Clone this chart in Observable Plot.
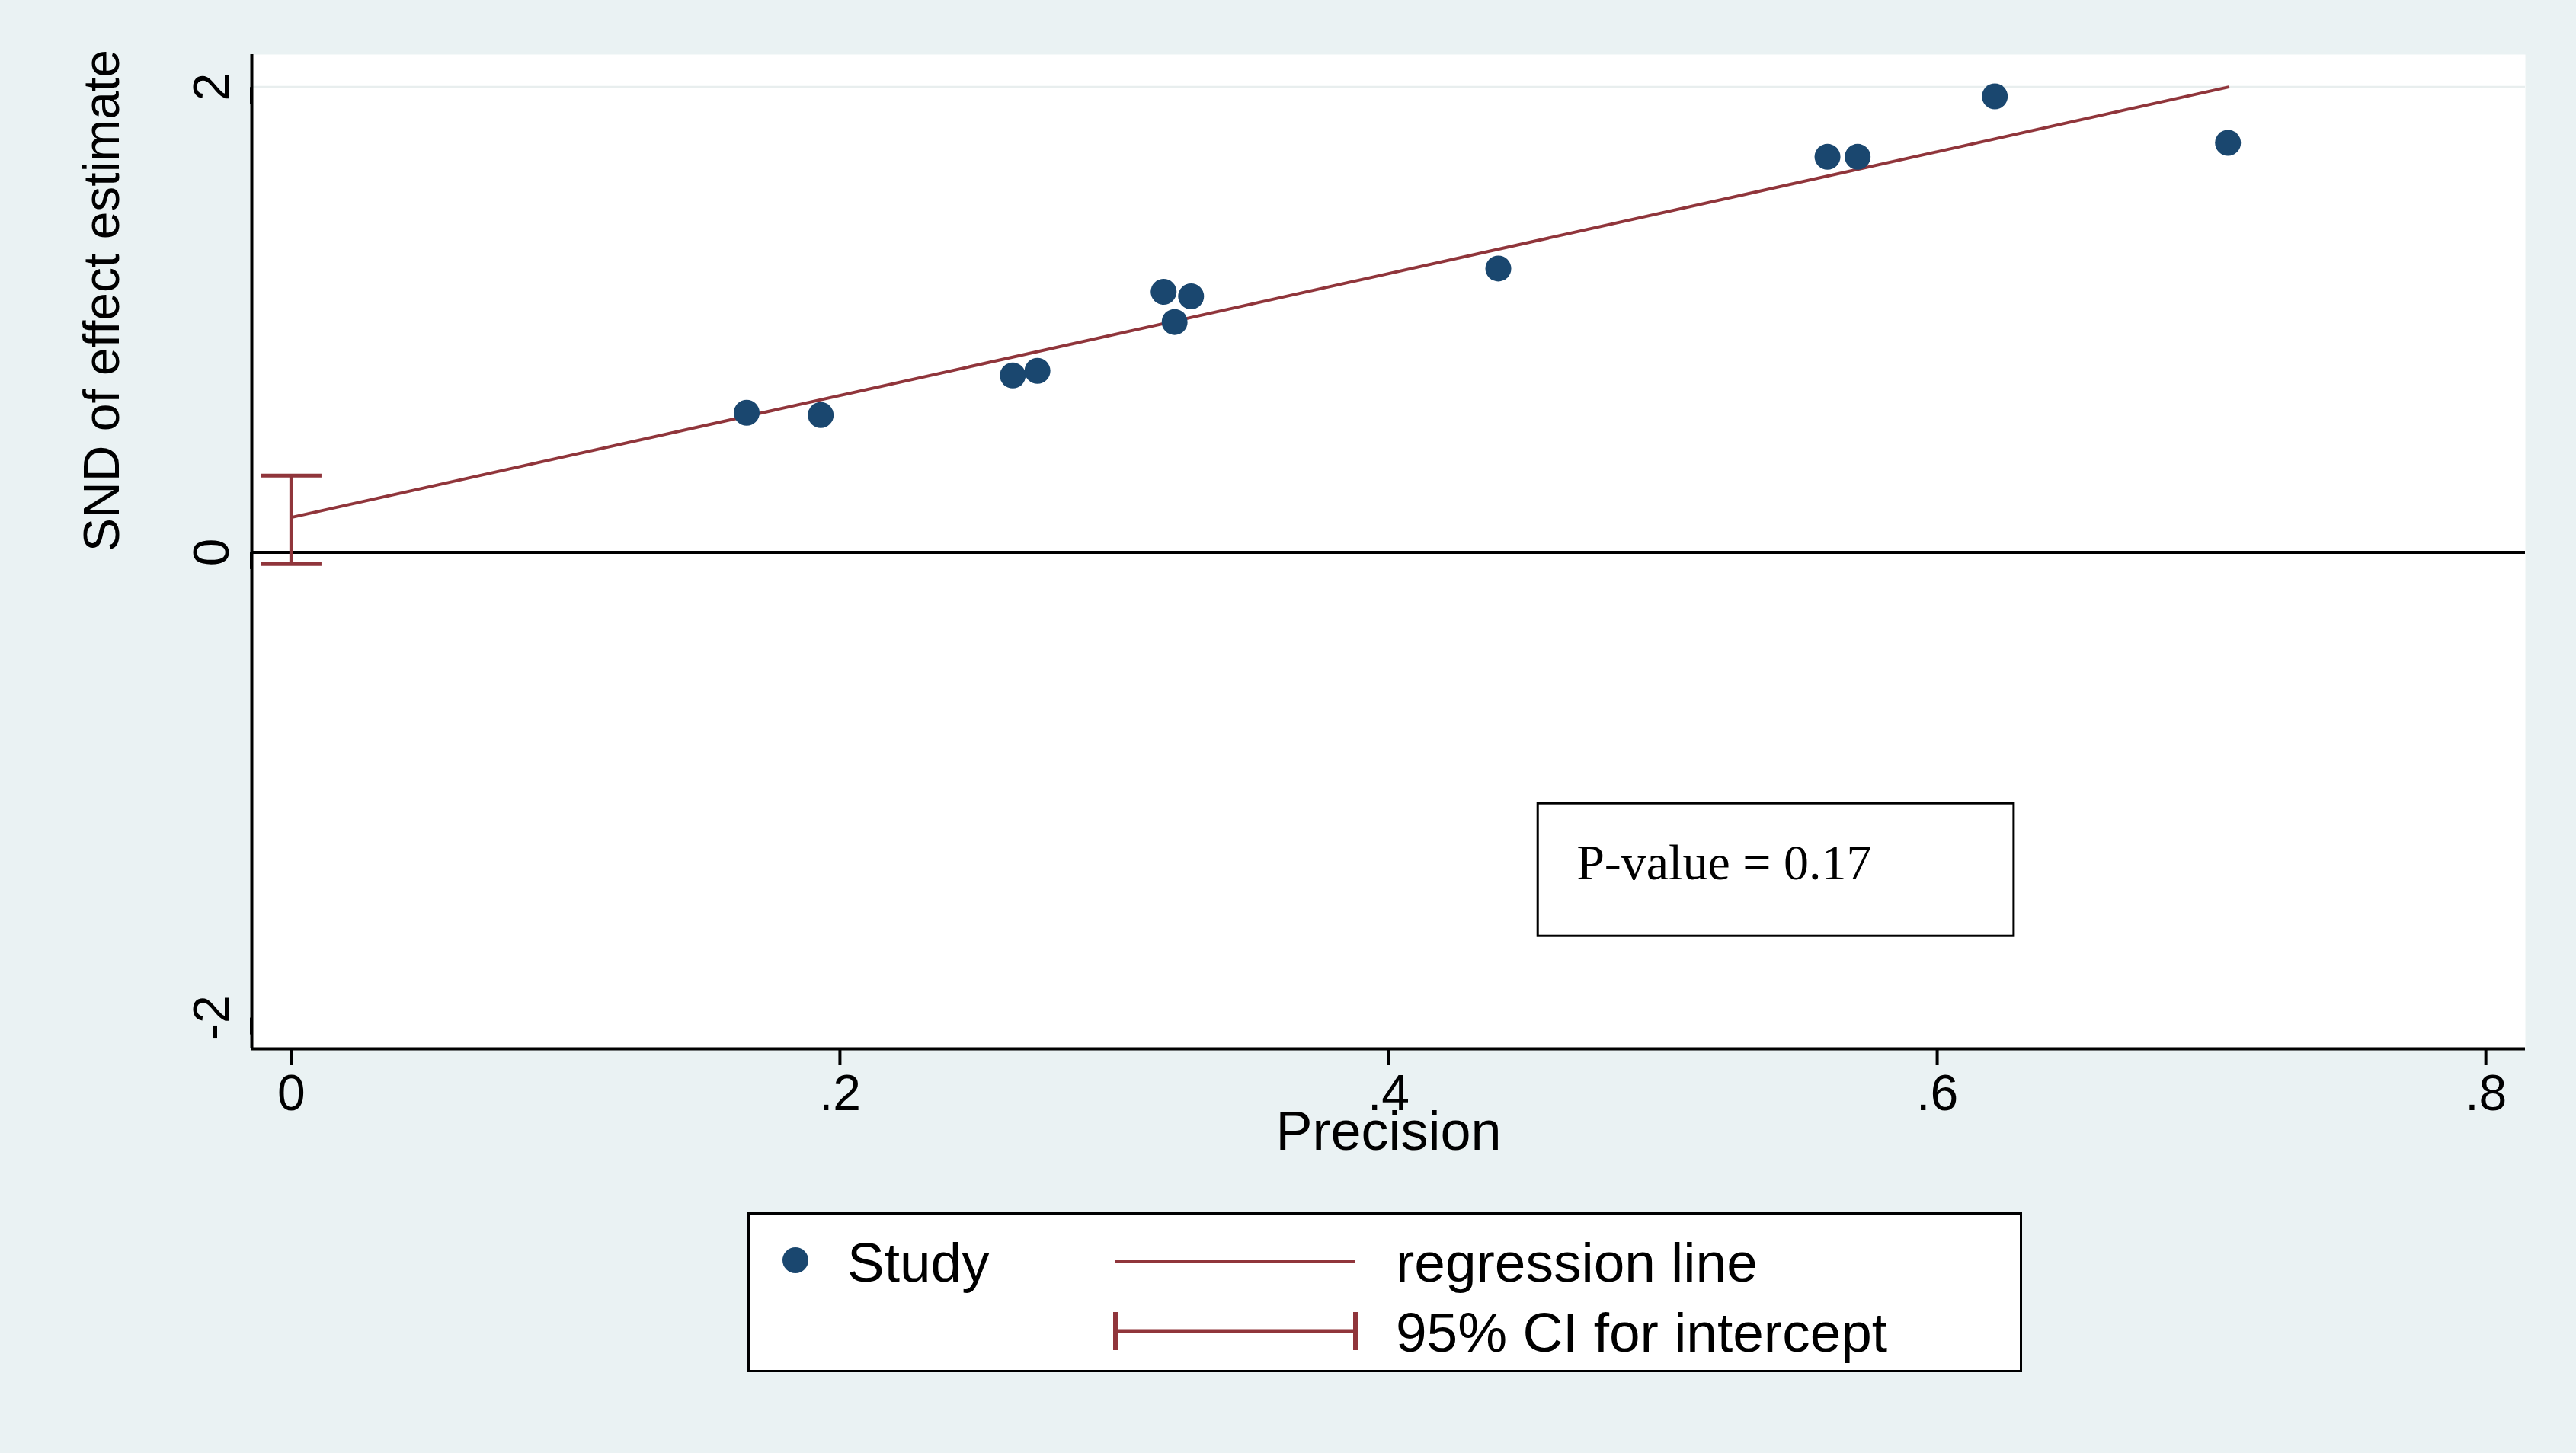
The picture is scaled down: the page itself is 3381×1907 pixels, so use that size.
<!DOCTYPE html>
<html><head><meta charset="utf-8">
<script src="https://cdn.jsdelivr.net/npm/d3@7"></script>
<script src="https://cdn.jsdelivr.net/npm/@observablehq/plot@0.6"></script>
<style>
body{margin:0;background:#eaf2f3;width:3381px;height:1907px;overflow:hidden;position:relative;font-family:"Liberation Sans",Arial,sans-serif}
#legend{position:absolute;left:981px;top:1591px;width:1673px;height:210px;border:3px solid #000;background:#fff;box-sizing:border-box;font-size:73px}
.t{position:absolute;line-height:1}
</style></head><body>
<div id="chart"></div>
<div id="legend">
 <svg width="1673" height="210" style="position:absolute;left:0;top:0">
  <circle cx="60" cy="60" r="17" fill="#1a476f"/>
  <line x1="480" x2="795" y1="62" y2="62" stroke="#90353b" stroke-width="4"/>
  <line x1="480" x2="795" y1="153" y2="153" stroke="#90353b" stroke-width="5"/>
  <line x1="480" x2="480" y1="128" y2="178" stroke="#90353b" stroke-width="6"/>
  <line x1="795" x2="795" y1="128" y2="178" stroke="#90353b" stroke-width="6"/>
 </svg>
 <div class="t" style="left:128px;top:26px">Study</div>
 <div class="t" style="left:848px;top:26px">regression line</div>
 <div class="t" style="left:848px;top:118px">95% CI for intercept</div>
</div>
<script>
const precision = [0.166,0.193,0.263,0.272,0.318,0.328,0.322,0.440,0.560,0.571,0.621,0.706];
const snd       = [0.60,0.59,0.76,0.78,1.12,1.10,0.99,1.22,1.70,1.70,1.96,1.76];
const intercept = 0.15, slope = 2.62;
const ciLow = -0.05, ciHigh = 0.33;
const xTicks = [0,0.2,0.4,0.6,0.8];
const yTicks = [-2,0,2];
const pBox = {x1:0.4545,x2:0.628,y1:-1.08,y2:-1.65,label:"P-value = 0.17"};

const pts = precision.map((p,i)=>({x:p,y:snd[i]}));
const reg = [0,0.706].map(x=>({x,y:intercept+slope*x}));
const caps = [ciLow,ciHigh].map(y=>({x1:-0.011,x2:0.011,y}));
const fmt = d=> d===0?"0":String(d).replace(/^0/,"").replace(/^-0/,"-");
const xMin=-0.0144, yMin=-2.134;
const plot = Plot.plot({
  width:3381,height:1560,
  marginLeft:330,marginRight:67,marginTop:71,marginBottom:184,
  style:{background:"transparent",fontFamily:"Liberation Sans, Arial, sans-serif"},
  x:{domain:[xMin,0.8144]},
  y:{domain:[yMin,2.14]},
  marks:[
    Plot.frame({fill:"white",stroke:null}),
    Plot.ruleY([2],{stroke:"#e8eeee",strokeWidth:3}),
    Plot.ruleY([0],{stroke:"#000",strokeWidth:4}),
    Plot.axisX({ticks:xTicks,tickFormat:fmt,fontSize:66,tickSize:22,strokeWidth:4,tickPadding:12,label:null}),
    Plot.axisY({ticks:yTicks,tickFormat:fmt,fontSize:66,tickSize:22,strokeWidth:4,rotate:-90,textAnchor:"middle",tickPadding:30,label:null}),
    Plot.ruleX([xMin],{stroke:"#000",strokeWidth:4}),
    Plot.ruleY([yMin],{stroke:"#000",strokeWidth:4}),
    Plot.text(["Precision"],{frameAnchor:"bottom",dy:132,fontSize:72}),
    Plot.text(["SND of effect estimate"],{frameAnchor:"left",dx:-196,rotate:-90,fontSize:66}),
    Plot.line(reg,{x:"x",y:"y",stroke:"#90353b",strokeWidth:4}),
    Plot.link([{x:0,y1:ciLow,y2:ciHigh}],{x1:"x",x2:"x",y1:"y1",y2:"y2",stroke:"#90353b",strokeWidth:5}),
    Plot.link(caps,{x1:"x1",x2:"x2",y1:"y",y2:"y",stroke:"#90353b",strokeWidth:5}),
    Plot.rect([pBox],{x1:"x1",x2:"x2",y1:"y1",y2:"y2",fill:"white",stroke:"#000",strokeWidth:3}),
    Plot.text([pBox],{x:d=>d.x1+0.014,y:d=>(d.y1+d.y2)/2+0.03,text:"label",textAnchor:"start",fontSize:66,fontFamily:"Liberation Serif, Times New Roman, serif"}),
    Plot.dot(pts,{x:"x",y:"y",r:17,fill:"#1a476f"})
  ]
});
document.getElementById("chart").appendChild(plot);
</script></body></html>
